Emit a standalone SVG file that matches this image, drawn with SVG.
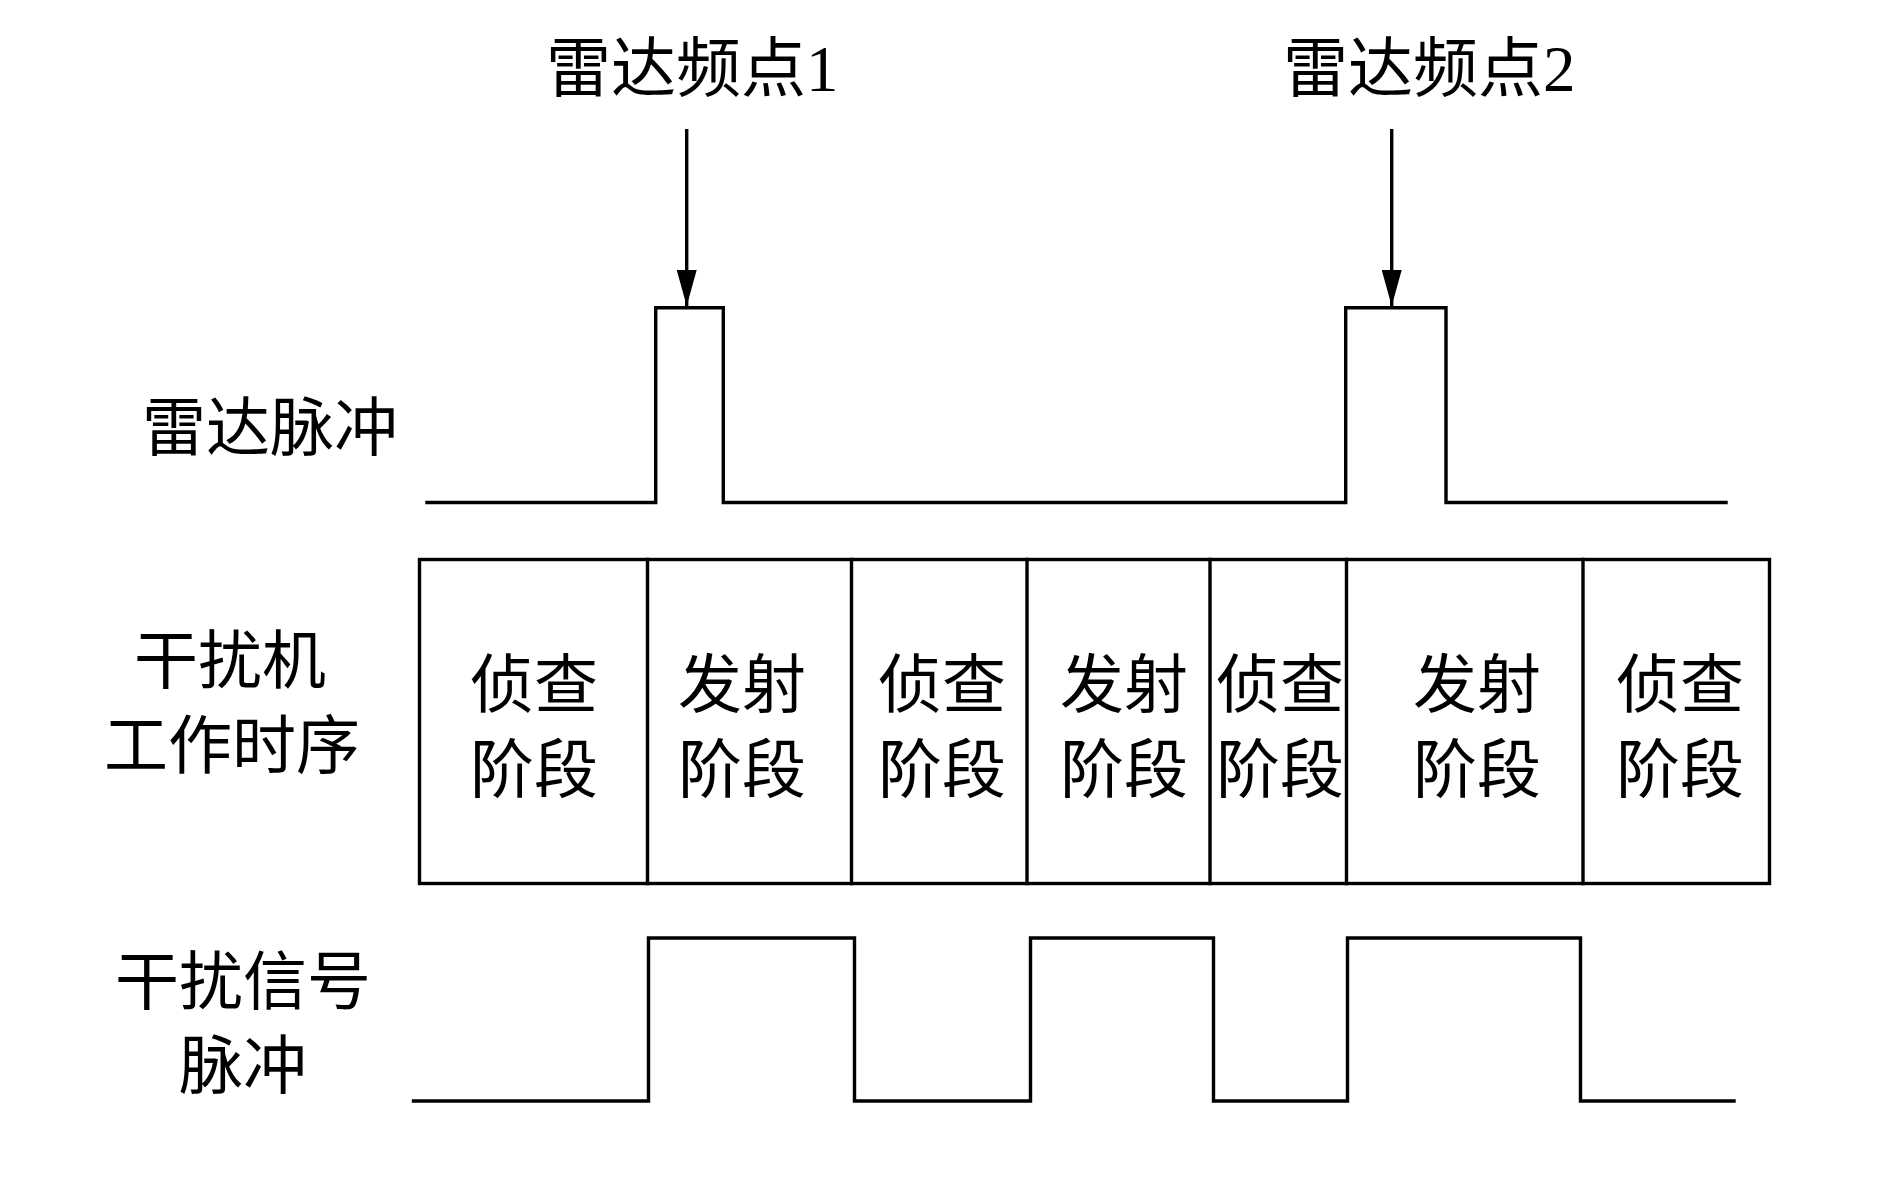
<svg xmlns="http://www.w3.org/2000/svg" width="1890" height="1181" viewBox="0 0 1890 1181">
<style>
text{font-family:"Liberation Serif","Noto Sans CJK SC",serif;fill:#000;}
.t{font-size:65px;}
.l{font-size:64px;text-anchor:middle;}
.w{fill:none;stroke:#000;stroke-width:3.4;stroke-linejoin:miter;stroke-linecap:square;}
</style>
<defs>
<marker id="ah" viewBox="0 0 36 20" refX="36" refY="10" markerWidth="36" markerHeight="20" markerUnits="userSpaceOnUse" orient="auto">
<path d="M0,0 L36,10 L0,20 Z" fill="#000"/>
</marker>
</defs>
<rect width="1890" height="1181" fill="#fff"/>
<g id="title1"><text class="t" x="546" y="91">雷达频点1</text></g>
<g id="title2"><text class="t" x="1283" y="91">雷达频点2</text></g>
<g id="label-radar"><text class="l" x="270" y="450">雷达脉冲</text></g>
<g id="label-jammer"><text class="l" x="230" y="683">干扰机</text><text class="l" x="232" y="768">工作时序</text></g>
<g id="label-signal"><text class="l" x="243" y="1004">干扰信号</text><text class="l" x="243" y="1088">脉冲</text></g>
<g id="radar-pulse"><path class="w" d="M427,502.5 H655.7 V307.7 H723.3 V502.5 H1345.7 V307.7 H1446 V502.5 H1726"/></g>
<g id="jam-signal"><path class="w" d="M413.5,1101 H648.5 V938 H854.5 V1101 H1030.5 V938 H1213.5 V1101 H1347.5 V938 H1580.5 V1101 H1734"/></g>
<g id="timeline">
<rect class="w" x="419.5" y="559.5" width="1350" height="324"/>
<path class="w" d="M647.5,559.5 V883.5 M851.5,559.5 V883.5 M1027,559.5 V883.5 M1210,559.5 V883.5 M1346.5,559.5 V883.5 M1583,559.5 V883.5"/>
</g>
<g id="phase1"><text class="l" x="534" y="707">侦查</text><text class="l" x="534" y="792">阶段</text></g>
<g id="phase2"><text class="l" x="742" y="707">发射</text><text class="l" x="742" y="792">阶段</text></g>
<g id="phase3"><text class="l" x="942" y="707">侦查</text><text class="l" x="942" y="792">阶段</text></g>
<g id="phase4"><text class="l" x="1124" y="707">发射</text><text class="l" x="1124" y="792">阶段</text></g>
<g id="phase5"><text class="l" x="1280" y="707">侦查</text><text class="l" x="1280" y="792">阶段</text></g>
<g id="phase6"><text class="l" x="1477" y="707">发射</text><text class="l" x="1477" y="792">阶段</text></g>
<g id="phase7"><text class="l" x="1680" y="707">侦查</text><text class="l" x="1680" y="792">阶段</text></g>
<g id="connectors">
<line x1="686.7" y1="129" x2="686.7" y2="306" stroke="#000" stroke-width="3.4" marker-end="url(#ah)"/>
<line x1="1391.7" y1="129" x2="1391.7" y2="306" stroke="#000" stroke-width="3.4" marker-end="url(#ah)"/>
</g>
</svg>
